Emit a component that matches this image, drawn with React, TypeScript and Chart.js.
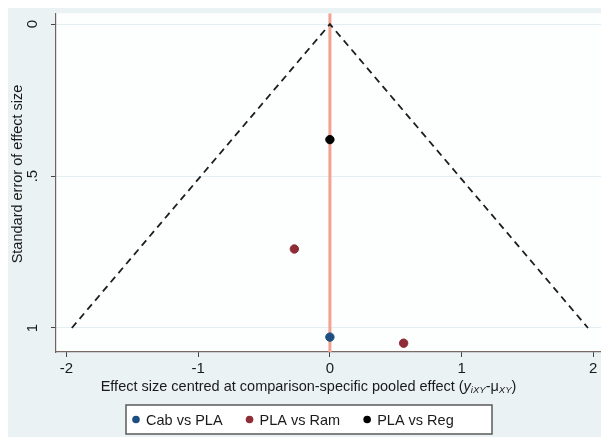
import React, { useEffect, useRef } from "react";
import { Chart, registerables } from "chart.js";

Chart.register(...registerables);

// ---- Data ----
const funnelX = [-1.96, 0, 1.96];
const funnelY = [1, 0, 1];
const nullLineX = [0, 0];
const nullLineY = [-0.036, 1.079];

const cabVsPlaX = [0];
const cabVsPlaY = [1.03];
const plaVsRamX = [-0.27, 0.56];
const plaVsRamY = [0.74, 1.05];
const plaVsRegX = [0];
const plaVsRegY = [0.38];

const seriesNames = ["Cab vs PLA", "PLA vs Ram", "PLA vs Reg"];
const seriesColors = ["#1c4f7f", "#8f2d37", "#000000"];

const xTicks = [-2, -1, 0, 1, 2];
const yTicks = [0, 0.5, 1];
const yTickLabels = ["0", ".5", "1"];

const xMin = -2.08;
const xMax = 2.08;
const yMin = -0.036;
const yMax = 1.079;

const yTitle = "Standard error of effect size";
const xTitleMain = "Effect size centred at comparison-specific pooled effect (";

const FONT = "'Liberation Sans', Arial, sans-serif";
const TEXT = "#1a1a1a";

const toPts = (xs: number[], ys: number[]) => xs.map((x, i) => ({ x, y: ys[i] }));

const customPlugin = {
  id: "customDecor",
  beforeDraw(chart: any) {
    const { ctx, chartArea, width, height } = chart;
    ctx.save();
    ctx.fillStyle = "#eaf2f4";
    ctx.fillRect(0, 0, width, height);
    ctx.fillStyle = "#fdfefe";
    ctx.fillRect(chartArea.left, chartArea.top, chartArea.right - chartArea.left, chartArea.bottom - chartArea.top);
    ctx.restore();
  },
  afterDraw(chart: any) {
    const { ctx, width } = chart;
    const ys = chart.scales.y;
    ctx.save();
    // y tick labels rotated
    ctx.fillStyle = TEXT;
    ctx.font = `15px ${FONT}`;
    ctx.textAlign = "center";
    ctx.textBaseline = "middle";
    yTicks.forEach((v, i) => {
      const py = ys.getPixelForValue(v);
      ctx.save();
      ctx.translate(25, py);
      ctx.rotate(-Math.PI / 2);
      ctx.fillText(yTickLabels[i], 0, 0);
      ctx.restore();
    });
    // y title
    ctx.save();
    ctx.translate(10, 166);
    ctx.rotate(-Math.PI / 2);
    ctx.font = `14.5px ${FONT}`;
    ctx.fillText(yTitle, 0, 0);
    ctx.restore();

    // x title with sub-scripts
    const big = `14.5px ${FONT}`;
    const bigI = `italic 14.5px ${FONT}`;
    const small = `italic 9.5px ${FONT}`;
    const parts: [string, string, number][] = [
      [xTitleMain, big, 0],
      ["y", bigI, 0],
      ["iXY", small, 3],
      ["-\u03bc", big, 0],
      ["XY", small, 3],
      [")", big, 0],
    ];
    let total = 0;
    parts.forEach(([t, f]) => {
      ctx.font = f;
      total += ctx.measureText(t).width;
    });
    let cx = width / 2 - total / 2;
    const ty = 379;
    ctx.textAlign = "left";
    ctx.textBaseline = "middle";
    parts.forEach(([t, f, dy]) => {
      ctx.font = f;
      ctx.fillText(t, cx, ty + dy);
      cx += ctx.measureText(t).width;
    });

    // legend box
    const boxL = 118, boxT = 397, boxR = 484, boxB = 426;
    ctx.fillStyle = "#ffffff";
    ctx.fillRect(boxL, boxT, boxR - boxL, boxB - boxT);
    ctx.strokeStyle = "#5a5a5a";
    ctx.lineWidth = 1.5;
    ctx.strokeRect(boxL, boxT, boxR - boxL, boxB - boxT);
    ctx.font = `14.5px ${FONT}`;
    let lx = boxL + 10;
    const ly = (boxT + boxB) / 2;
    seriesNames.forEach((name, i) => {
      ctx.fillStyle = seriesColors[i];
      ctx.beginPath();
      ctx.arc(lx, ly, 3.8, 0, Math.PI * 2);
      ctx.fill();
      ctx.fillStyle = TEXT;
      ctx.textAlign = "left";
      ctx.fillText(name, lx + 10, ly + 1);
      lx += 10 + ctx.measureText(name).width + 27;
    });
    ctx.restore();
  },
};

export default function App() {
  const ref = useRef<HTMLCanvasElement | null>(null);
  useEffect(() => {
    if (!ref.current) return;
    const chart = new Chart(ref.current, {
      type: "scatter",
      data: {
        datasets: [
          {
            label: seriesNames[2],
            data: toPts(plaVsRegX, plaVsRegY),
            backgroundColor: seriesColors[2],
            borderColor: seriesColors[2],
            pointRadius: 4.2,
            order: 0,
          },
          {
            label: seriesNames[1],
            data: toPts(plaVsRamX, plaVsRamY),
            backgroundColor: seriesColors[1],
            borderColor: seriesColors[1],
            pointRadius: 4.2,
            order: 0,
          },
          {
            label: seriesNames[0],
            data: toPts(cabVsPlaX, cabVsPlaY),
            backgroundColor: seriesColors[0],
            borderColor: seriesColors[0],
            pointRadius: 4.2,
            order: 0,
          },
          {
            label: "funnel",
            data: toPts(funnelX, funnelY),
            showLine: true,
            borderColor: "#1e1e1e",
            borderWidth: 1.8,
            borderDash: [7, 5],
            pointRadius: 0,
            order: 1,
          },
          {
            label: "null",
            data: toPts(nullLineX, nullLineY),
            showLine: true,
            borderColor: "#f3a190",
            borderWidth: 3,
            pointRadius: 0,
            order: 2,
          },
        ],
      },
      options: {
        animation: false,
        responsive: false,
        devicePixelRatio: 1,
        events: [],
        layout: { padding: { top: 5, right: 0, left: 0, bottom: 0 } },
        plugins: { legend: { display: false }, tooltip: { enabled: false } },
        scales: {
          x: {
            type: "linear",
            min: xMin,
            max: xMax,
            afterBuildTicks: (s: any) => {
              s.ticks = xTicks.map((v) => ({ value: v }));
            },
            afterFit: (s: any) => {
              s.height = 85;
            },
            grid: { color: "rgba(0,0,0,0)", tickColor: "#444", tickLength: 5, drawTicks: true },
            border: { color: "#7a6a66", width: 1.2 },
            ticks: {
              padding: 3,
              color: TEXT,
              font: { family: FONT, size: 15 },
              callback: (v: any) => String(v),
            },
          },
          y: {
            type: "linear",
            reverse: true,
            min: yMin,
            max: yMax,
            afterBuildTicks: (s: any) => {
              s.ticks = yTicks.map((v) => ({ value: v }));
            },
            afterFit: (s: any) => {
              s.width = 48;
            },
            grid: { color: "#e2eef1", lineWidth: 1, tickColor: "#444", tickLength: 5, drawTicks: true },
            border: { color: "#6e6360", width: 1.2 },
            ticks: { display: false },
          },
        },
      },
      plugins: [customPlugin],
    } as any);
    return () => chart.destroy();
  }, []);
  return (
    <canvas
      ref={ref}
      width={601}
      height={429}
      style={{ display: "block", width: 601, height: 429 }}
    />
  );
}
